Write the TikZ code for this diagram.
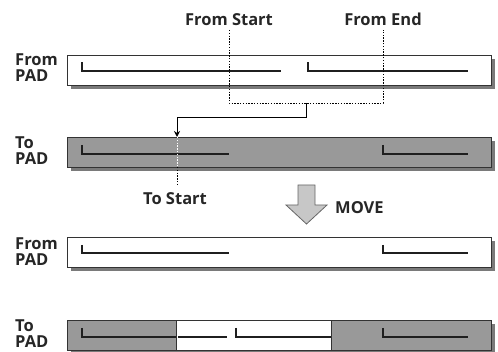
\documentclass[tikz,border=0pt]{standalone}
\usepackage{fontspec}
\setmainfont{Open Sans}
\usetikzlibrary{arrows.meta}
\begin{document}
\begin{tikzpicture}[x=1pt,y=-1pt,
  lbl/.style={font=\bfseries\fontsize{16.5}{16}\selectfont, text=black!85, inner sep=0pt},
  side/.style={lbl, align=left, anchor=base west},
  barbox/.style={draw=black!80, line width=0.8pt, minimum width=424pt, minimum height=30pt, inner sep=0pt, anchor=north west},
  shade/.style={fill=black!52},
  seg/.style={draw=black!88, line width=2.3pt},
  dots/.style={draw=black, line width=0.8pt, dash pattern=on 1.4pt off 1.4pt},
  wdots/.style={draw=white, line width=0.8pt, dash pattern=on 1.4pt off 1.4pt},
  conn/.style={draw=black, line width=0.9pt}
]
\useasboundingbox (0,0) rectangle (498,352);

% ---- bar 1: From PAD
\fill[shade] (71,59) rectangle (495,89);
\node[barbox, fill=white] (b1) at (67,55) {};
\draw[seg] (82,62.5) |- (281,71);
\draw[seg] (308,62.5) |- (468,71);
\node[side] (l1) at (15,82) {From\\PAD};

% ---- bar 2: To PAD
\fill[shade] (71,141) rectangle (495,171);
\node[barbox, fill=black!40] (b2) at (67,137) {};
\draw[seg] (82,145) |- (229,154);
\draw[seg] (383,145) |- (468,154);
\node[side] (l2) at (15,165) {To\\PAD};

% ---- bar 3: From PAD
\fill[shade] (71,241) rectangle (495,271);
\node[barbox, fill=white] (b3) at (67,237) {};
\draw[seg] (82,245) |- (229,253);
\draw[seg] (383,245) |- (468,253);
\node[side] (l3) at (15,266) {From\\PAD};

% ---- bar 4: To PAD
\fill[shade] (71,324) rectangle (495,354);
\node[barbox, fill=black!40] (b4) at (67,320) {};
\node[draw=black!80, line width=0.8pt, fill=white, minimum width=155pt, minimum height=30pt, inner sep=0pt, anchor=north west] (w4) at (176,320) {};
\draw[seg] (82,328) |- (176,337);
\draw[seg] (178,337) -- (227,337);
\draw[seg] (236,328) |- (331,337);
\draw[seg] (383,328) |- (468,337);
\node[side] (l4) at (15,348) {To\\PAD};

% ---- top labels and dotted selection
\node[lbl, anchor=base] (fs) at (229,26) {From Start};
\node[lbl, anchor=base] (fe) at (383,26) {From End};
\coordinate (fst) at (229,30);
\coordinate (fet) at (383,30);
\coordinate (fsb) at (229,103);
\coordinate (feb) at (383,103);
\draw[dots] (fst) -- (fsb) -- (feb) -- (fet);

% ---- connector arrow
\coordinate (ca) at (306,103);
\coordinate (cb) at (177,117);
\coordinate (ts) at (177,137);
\draw[conn, -{Stealth[length=6pt,width=6pt]}] (ca) |- (cb) -- (ts);
\coordinate (tsb) at (177,167);
\draw[wdots] (ts) -- (tsb);
\node[lbl, anchor=base] (tst) at (175,205) {To Start};
\coordinate (tse) at (177,184);
\draw[dots] (tsb) -- (tse);

% ---- MOVE block arrow
\draw[fill=black!22, draw=black!60, line width=0.8pt]
  (298,185) -- (315,185) -- (315,205) -- (327,205) -- (306.5,224) -- (286,205) -- (298,205) -- cycle;
\node[lbl, anchor=base west] (mv) at (335,214) {MOVE};
\end{tikzpicture}
\end{document}
